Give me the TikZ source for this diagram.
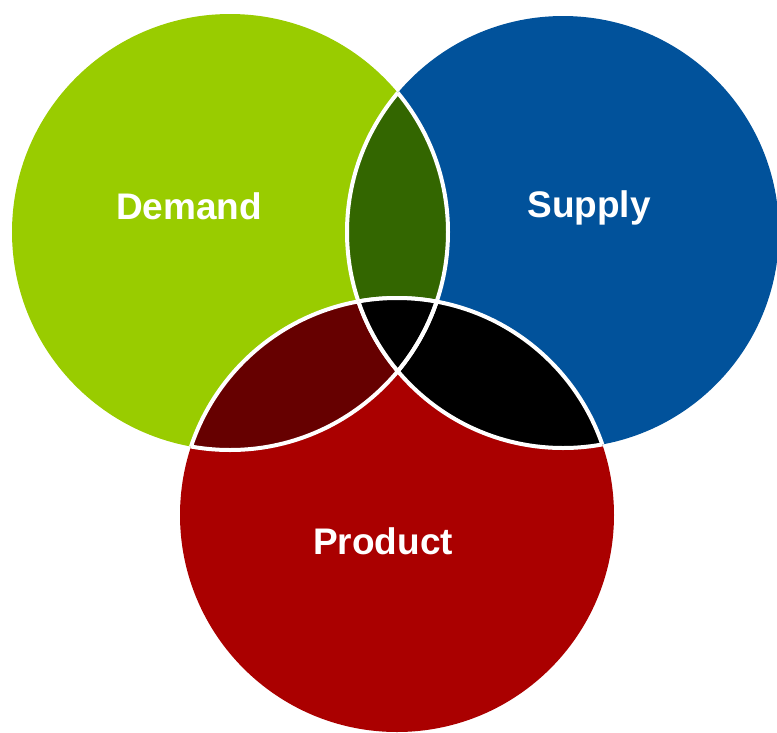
\documentclass[tikz,border=0pt]{standalone}
\usepackage{fontspec}
\setmainfont{Liberation Sans}
\definecolor{demandgreen}{HTML}{99CC00}
\definecolor{supplyblue}{HTML}{01529B}
\definecolor{productred}{HTML}{AA0000}
\definecolor{lensgreen}{HTML}{336600}
\definecolor{lensred}{HTML}{660000}
\tikzset{
  setname/.style={text=white, font=\bfseries\fontsize{37}{40}\selectfont},
  rim/.style={draw=white, line width=4pt}
}
\begin{document}
\begin{tikzpicture}[x=1pt,y=-1pt]
        \useasboundingbox (0,0) rectangle (777,732);
        \def\demandset{(230,232) circle (218pt)}
        \def\supplyset{(563,232) circle (216pt)}
        \def\productset{(397,515) circle (217pt)}

        \fill[demandgreen] \demandset;
        \fill[supplyblue] \supplyset;
        \fill[productred] \productset;
        \begin{scope}
            \clip \demandset;
            \fill[lensgreen] \supplyset;
            \fill[lensred] \productset;
            \draw[rim] \supplyset;
            \draw[rim] \productset;
        \end{scope}
        \begin{scope}
            \clip \supplyset;
            \fill[black] \productset;
            \draw[rim] \demandset;
            \draw[rim] \productset;
        \end{scope}
        \begin{scope}
            \clip \productset;
            \draw[rim] \demandset;
            \draw[rim] \supplyset;
        \end{scope}

        \draw (189,206) node[setname] (demand) {Demand};
        \draw (589,208) node[setname] (supply) {Supply};
        \draw (383,541) node[setname] (product) {Product};
    \end{tikzpicture}
\end{document}
